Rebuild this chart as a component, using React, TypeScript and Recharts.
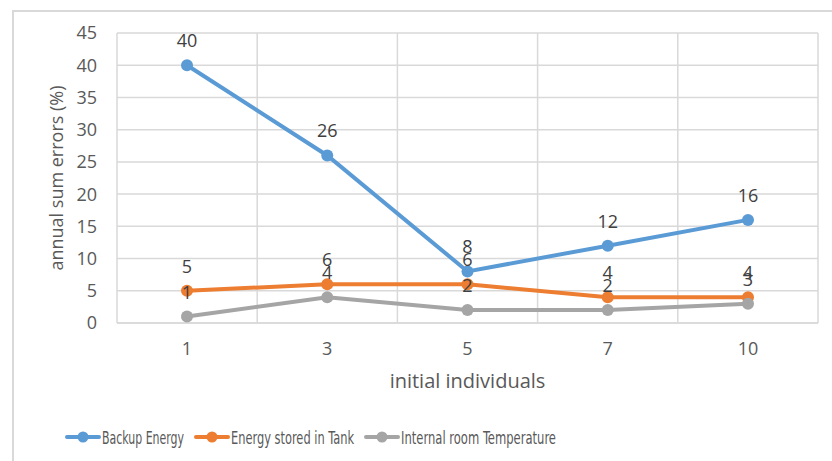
import React from 'react';
import { LineChart, Line, XAxis, YAxis, CartesianGrid, LabelList } from 'recharts';

const categories = ['1', '3', '5', '7', '10'];
const backupEnergy = [40, 26, 8, 12, 16];
const tankEnergy = [5, 6, 6, 4, 4];
const roomTemp = [1, 4, 2, 2, 3];
const yTicks = [0, 5, 10, 15, 20, 25, 30, 35, 40, 45];

const series = [
  { key: 'backup', name: 'Backup Energy', color: '#5B9BD5', values: backupEnergy },
  { key: 'tank', name: 'Energy stored in Tank', color: '#ED7D31', values: tankEnergy },
  { key: 'temp', name: 'Internal room Temperature', color: '#A5A5A5', values: roomTemp },
];

const data = categories.map((c, i) => {
  const row: any = { x: c };
  series.forEach((s) => (row[s.key] = s.values[i]));
  return row;
});

const FONT = '"Open Sans", "DejaVu Sans", sans-serif';
const LEGEND_FONT = '"DejaVu Sans Condensed", "Liberation Sans Narrow", sans-serif';
const LEGEND_TEXT_WIDTHS = [82, 123, 155];

function LegendSvg() {
  let x = 66;
  const items = series.map((s, i) => {
    const x0 = x;
    const tx = x0 + 36;
    x = tx + LEGEND_TEXT_WIDTHS[i] + 11;
    return (
      <g key={s.key}>
        <line x1={x0 + 1} y1={437} x2={x0 + 33} y2={437} stroke={s.color} strokeWidth={4} strokeLinecap="round" />
        <circle cx={x0 + 17} cy={437} r={5.5} fill={s.color} />
        <text
          x={tx}
          y={444}
          textLength={LEGEND_TEXT_WIDTHS[i]}
          lengthAdjust="spacingAndGlyphs"
          fill="#595959"
          fontSize={18.5}
          fontFamily={LEGEND_FONT}
        >
          {s.name}
        </text>
      </g>
    );
  });
  return (
    <svg width={832} height={461} style={{ position: 'absolute', left: 0, top: 0, pointerEvents: 'none' }}>
      {items}
    </svg>
  );
}

export default function App() {
  return (
    <div style={{ position: 'absolute', left: 0, top: 0, width: 832, height: 461, background: '#fff', overflow: 'hidden' }}>
      <div style={{ position: 'absolute', left: 12, top: 10, width: 840, height: 480, border: '2px solid #d9d9d9' }} />
      <LineChart
        width={832}
        height={461}
        data={data}
        margin={{ top: 33, right: 14, left: 0, bottom: 22 }}
        style={{ position: 'absolute', left: 0, top: 0 }}
      >
        <CartesianGrid
          stroke="#d9d9d9"
          strokeWidth={1.5}
          verticalCoordinatesGenerator={(props: any) => {
            const o = props.offset;
            return [0, 1, 2, 3, 4, 5].map((i) => o.left + (i * o.width) / categories.length);
          }}
        />
        <XAxis
          dataKey="x"
          padding={{ left: 70, right: 70 }}
          height={116}
          tickLine={false}
          tickSize={0}
          tickMargin={19}
          axisLine={{ stroke: '#d9d9d9', strokeWidth: 1.5 }}
          tick={{ fill: '#595959', fontSize: 18, fontFamily: FONT }}
          label={{ value: 'initial individuals', position: 'center', fill: '#595959', fontSize: 20, fontFamily: FONT, dy: 0 }}
        />
        <YAxis
          width={117}
          domain={[0, 45]}
          ticks={yTicks}
          tickLine={false}
          axisLine={false}
          tickSize={0}
          tickMargin={20}
          tick={{ fill: '#595959', fontSize: 18, fontFamily: FONT }}
          label={{ value: 'annual sum errors (%)', angle: -90, position: 'center', dx: -2, fill: '#595959', fontSize: 18, fontFamily: FONT }}
        />
        {series.map((s) => (
          <Line
            key={s.key}
            dataKey={s.key}
            name={s.name}
            stroke={s.color}
            strokeWidth={4}
            dot={{ r: 6, fill: s.color, stroke: s.color, strokeWidth: 0 }}
            activeDot={false}
            isAnimationActive={false}
          >
            <LabelList dataKey={s.key} position="top" offset={18} fill="#404040" fontSize={18} fontFamily={FONT} />
          </Line>
        ))}
      </LineChart>
      <LegendSvg />
    </div>
  );
}
